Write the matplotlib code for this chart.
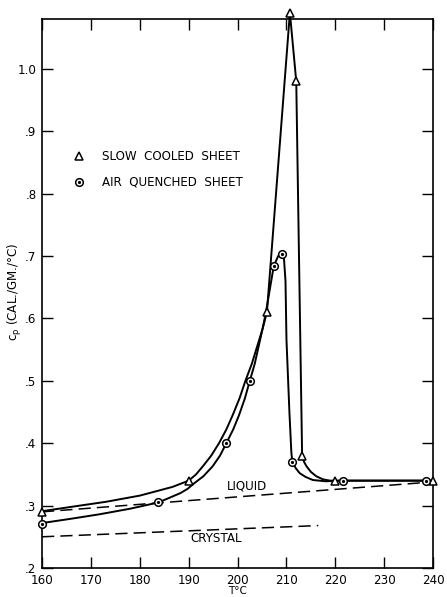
import numpy as np
from matplotlib import pyplot as plt

## Specific heat of sheet samples vs temperature

# marker points
slow_T = [160, 190, 206, 210.7, 212.0, 213.2, 220, 240]
slow_cp = [0.29, 0.34, 0.61, 1.09, 0.98, 0.38, 0.34, 0.34]
quench_T = [160, 183.8, 197.7, 202.5, 207.4, 209.0, 211.2, 221.6, 238.6]
quench_cp = [0.27, 0.305, 0.40, 0.50, 0.684, 0.703, 0.37, 0.34, 0.34]

# hand drawn curves
slow_curve_T = [160, 166, 173, 180, 186.7, 190, 191.5, 192.9, 194.6, 196.2, 197.7, 199, 200.4,
                201.6, 202.9, 204, 205.1, 206,
                210.7, 212.0, 213.2, 213.6, 214.1, 215, 216.1, 217.5, 218.9, 220, 240]
slow_curve_cp = [0.291, 0.298, 0.306, 0.316, 0.330, 0.34, 0.35, 0.363, 0.38, 0.40, 0.422, 0.445, 0.472,
                 0.50, 0.527, 0.555, 0.583, 0.61,
                 1.09, 0.98, 0.38, 0.37, 0.363, 0.354, 0.347, 0.342, 0.34, 0.34, 0.34]
quench_curve_T = [160, 166, 171.7, 178, 183.8, 188.3, 189.8, 191, 193, 194.9, 196.4, 197.7, 199.1,
                  200.3, 201.5, 202.5, 203.5, 204.3, 205.1, 205.8, 207.4, 208.3, 209.0, 209.5,
                  209.8, 210.0, 210.6, 211.0, 211.2, 211.9, 212.7, 213.9, 215.4, 218, 221.6,
                  238.6, 240]
quench_curve_cp = [0.272, 0.279, 0.286, 0.295, 0.305, 0.32, 0.327, 0.335, 0.347, 0.363, 0.38, 0.40, 0.422,
                   0.445, 0.472, 0.50, 0.527, 0.555, 0.583, 0.61, 0.684, 0.70, 0.703, 0.695,
                   0.66, 0.566, 0.45, 0.385, 0.37, 0.36, 0.352, 0.346, 0.341, 0.339, 0.34,
                   0.34, 0.34]

# reference lines
liquid_T = [160, 240]
liquid_cp = [0.29, 0.338]
crystal_T = [160, 216.5]
crystal_cp = [0.25, 0.268]

xticks = [160, 170, 180, 190, 200, 210, 220, 230, 240]
yticks = [0.2, 0.3, 0.4, 0.5, 0.6, 0.7, 0.8, 0.9, 1.0]
ylabels = [".2", ".3", ".4", ".5", ".6", ".7", ".8", ".9", "1.0"]

plt.rcParams['font.family'] = ['DejaVu Sans']

f = plt.figure(figsize=(4.47, 5.97), dpi=100)
ax = f.add_axes([0.094, 0.0486, 0.875, 0.9196])

dash = (0, (8, 4))
ax.plot(liquid_T, liquid_cp, color="k", lw=1.1, linestyle=dash)
ax.plot(crystal_T, crystal_cp, color="k", lw=1.1, linestyle=dash)

ax.plot(slow_curve_T, slow_curve_cp, color="k", lw=1.4, clip_on=False, solid_joinstyle="round")
ax.plot(quench_curve_T, quench_curve_cp, color="k", lw=1.4, clip_on=False, solid_joinstyle="round")

ax.plot(slow_T, slow_cp, linestyle="none", marker="^", ms=5.5, mfc="white", mec="k", mew=1.1,
        clip_on=False, zorder=5)
ax.plot(quench_T, quench_cp, linestyle="none", marker="o", ms=5.5, mfc="white", mec="k", mew=1.1,
        clip_on=False, zorder=5)
ax.plot(quench_T, quench_cp, linestyle="none", marker="o", ms=1.3, mfc="k", mec="k",
        clip_on=False, zorder=6)

# legend drawn as in the original
ax.plot([167.6], [0.86], linestyle="none", marker="^", ms=5.5, mfc="white", mec="k", mew=1.1)
ax.plot([167.6], [0.818], linestyle="none", marker="o", ms=5.5, mfc="white", mec="k", mew=1.1)
ax.plot([167.6], [0.818], linestyle="none", marker="o", ms=1.3, mfc="k", mec="k")
ax.text(172.2, 0.86, "SLOW  COOLED  SHEET", fontsize=8.6, va="center", ha="left")
ax.text(172.2, 0.818, "AIR  QUENCHED  SHEET", fontsize=8.6, va="center", ha="left")

ax.text(202, 0.331, "LIQUID", fontsize=8.6, va="center", ha="center")
ax.text(195.6, 0.248, "CRYSTAL", fontsize=8.6, va="center", ha="center")

ax.set_xlim(160, 240)
ax.set_ylim(0.2, 1.08)
ax.set_xticks(xticks)
ax.set_yticks(yticks)
ax.set_yticklabels(ylabels)
ax.tick_params(direction="in", length=8, width=1, top=True, right=True, labelsize=8.6)
ax.tick_params(axis="x", pad=4)
ax.tick_params(axis="y", pad=4)
for s in ax.spines.values():
	s.set_linewidth(1.2)

f.text(15 / 447, 1 - 292 / 597, r"c$_{\rm p}$ (CAL./GM./°C)", rotation=90, fontsize=8.6,
       ha="center", va="center")
f.text(237 / 447, 1 - 596 / 597, "T°C", fontsize=7.5, ha="center", va="bottom")

f.savefig("out.png", dpi=100)
